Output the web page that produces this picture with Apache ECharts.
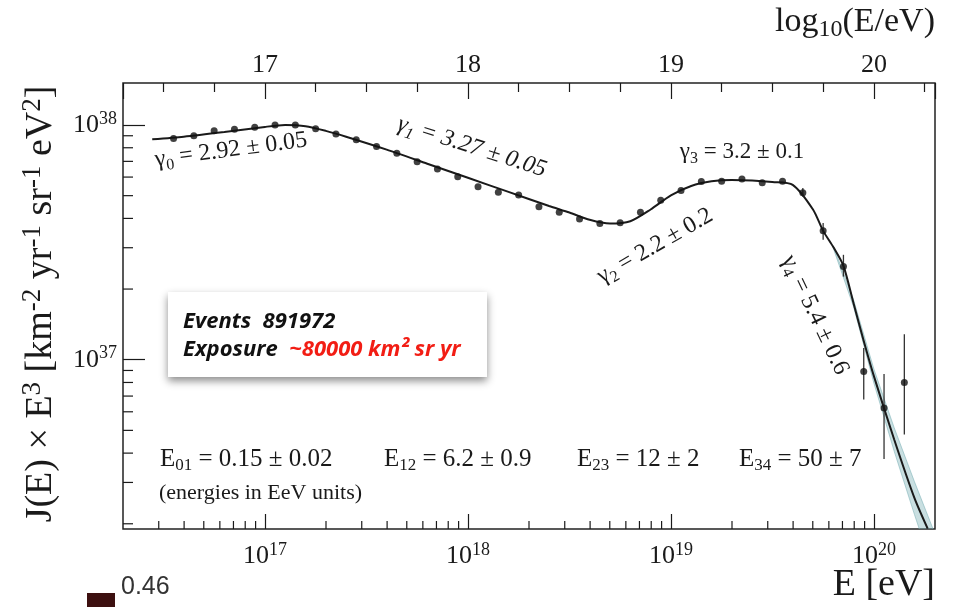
<!DOCTYPE html>
<html>
<head>
<meta charset="utf-8">
<script src="https://cdn.jsdelivr.net/npm/echarts@6/dist/echarts.min.js"></script>
<style>
  html, body { margin: 0; padding: 0; background: #fff; }
  #chart { width: 954px; height: 607px; }
</style>
</head>
<body>
<div id="chart"></div>
<script>
const pointLogE = [16.55, 16.65, 16.75, 16.85, 16.95, 17.05, 17.15, 17.25, 17.35, 17.45,
  17.55, 17.65, 17.75, 17.85, 17.95, 18.05, 18.15, 18.25, 18.35, 18.45,
  18.55, 18.65, 18.75, 18.85, 18.95, 19.05, 19.15, 19.25, 19.35, 19.45,
  19.55, 19.65, 19.75, 19.85, 19.95, 20.05, 20.15];
const pointLogJ = [37.942, 37.954, 37.976, 37.982, 37.990, 38.000, 38.000, 37.984, 37.962, 37.937,
  37.908, 37.880, 37.843, 37.813, 37.780, 37.737, 37.714, 37.702, 37.652, 37.628,
  37.600, 37.580, 37.584, 37.628, 37.679, 37.721, 37.759, 37.760, 37.770, 37.754,
  37.760, 37.711, 37.549, 37.397, 36.950, 36.794, 36.903];

// error bars on the last bins
const errLogE = [19.65, 19.75, 19.85, 19.95, 20.05, 20.15];
const errLow = [37.694, 37.511, 37.354, 36.830, 36.577, 36.681];
const errHigh = [37.732, 37.583, 37.447, 37.050, 36.939, 37.109];

// fitted broken power law (solid line)
const fitLogE = [16.445, 16.6, 16.8, 17.0, 17.1, 17.2, 17.3, 17.4, 17.6, 17.8,
  18.0, 18.2, 18.4, 18.5, 18.6, 18.7, 18.8, 18.9, 19.0, 19.1,
  19.2, 19.3, 19.4, 19.5, 19.6, 19.7, 19.75, 19.8, 19.85, 19.9,
  19.95, 20.0, 20.1, 20.2, 20.265];
const fitLogJ = [37.939, 37.950, 37.970, 37.992, 38.000, 37.995, 37.975, 37.950, 37.895, 37.835,
  37.775, 37.715, 37.655, 37.627, 37.596, 37.580, 37.590, 37.640, 37.700, 37.740,
  37.760, 37.766, 37.764, 37.757, 37.745, 37.640, 37.549, 37.480, 37.400, 37.240,
  37.080, 36.930, 36.660, 36.410, 36.280];

// shaded uncertainty of the fit in the suppression region
const bandLogE = [19.8, 19.9, 20.0, 20.1, 20.2, 20.3];
const bandLow = [37.475, 37.225, 36.900, 36.610, 36.340, 36.080];
const bandHigh = [37.485, 37.255, 36.960, 36.710, 36.480, 36.260];

// axis ranges
const xMin = 2e16, xMax = 2e20;
const yMin = 1.9e36, yMax = 1.51e38;
const minorMult = [2, 3, 4, 5, 6, 7, 8, 9];
const xDecades = [16, 17, 18, 19];
const yDecades = [36, 37];

const SERIF = "'Liberation Serif', 'DejaVu Serif', serif";
const INK = '#1a1a1a';
const pow = (v) => Math.pow(10, v);

const xMinor = [];
xDecades.forEach((d) => minorMult.forEach((m) => {
  const v = m * pow(d);
  if (v > xMin * 1.01 && v < xMax * 0.99) xMinor.push([v, yMin]);
}));
const yMinor = [];
yDecades.forEach((d) => minorMult.forEach((m) => {
  const v = m * pow(d);
  if (v > yMin && v < yMax) yMinor.push([xMin, v]);
}));

const supRich = {
  b: { fontFamily: SERIF, fontSize: 26, color: INK, lineHeight: 30 },
  s: { fontFamily: SERIF, fontSize: 18, color: INK, lineHeight: 18, verticalAlign: 'top' },
};
const decadeLabel = (v) => '{b|10}{s|' + Math.round(Math.log10(v)) + '}';

function tickSeries(data, dx, dy) {
  return {
    type: 'custom',
    silent: true,
    data: data,
    renderItem: (params, api) => {
      const p = api.coord([api.value(0), api.value(1)]);
      return {
        type: 'line',
        shape: { x1: p[0], y1: p[1], x2: p[0] + dx, y2: p[1] + dy },
        style: { stroke: INK, lineWidth: 1.2 },
      };
    },
  };
}

// text helper for the annotations
function label(x, y, text, size, rot, opts) {
  opts = opts || {};
  const st = opts.italic ? 'italic' : 'normal';
  const k = opts.sub || 0.68;
  return {
    type: 'text',
    x: x, y: y,
    rotation: rot || 0,
    z: 100,
    style: {
      text: text,
      align: opts.align || 'center',
      verticalAlign: 'middle',
      fontFamily: SERIF,
      fontSize: size,
      fontStyle: st,
      fill: INK,
      rich: {
        b: { fontFamily: SERIF, fontSize: size, fill: INK, lineHeight: size + 6, fontStyle: st },
        sub: { fontFamily: SERIF, fontSize: Math.round(size * k), fill: INK,
               lineHeight: Math.round(size * 0.6), verticalAlign: 'bottom', fontStyle: st },
        sup: { fontFamily: SERIF, fontSize: Math.round(size * k), fill: INK,
               lineHeight: Math.round(size * 0.6), verticalAlign: 'top' },
      },
    },
  };
}

const BOX_FONT = 'italic bold 22px "Open Sans", Lato, sans-serif';
const chart = echarts.init(document.getElementById('chart'));

chart.setOption({
  animation: false,
  backgroundColor: '#fff',
  grid: {
    left: 123, right: 19, top: 83, bottom: 78,
    show: true, borderColor: '#222', borderWidth: 1.5, backgroundColor: 'transparent',
  },
  xAxis: [
    {
      type: 'log', logBase: 10, min: xMin, max: xMax,
      axisLine: { show: false },
      splitLine: { show: false },
      axisTick: { inside: true, length: 15, lineStyle: { color: INK, width: 1.2 } },
      axisLabel: {
        margin: 12, showMinLabel: false, showMaxLabel: false,
        formatter: decadeLabel, rich: supRich,
      },
    },
    {
      type: 'value', position: 'top',
      min: Math.log10(xMin), max: Math.log10(xMax), splitNumber: 4,
      axisLine: { show: false },
      splitLine: { show: false },
      axisTick: { inside: true, length: 16, lineStyle: { color: INK, width: 1.2 } },
      minorTick: { show: true, splitNumber: 4, length: 9, lineStyle: { color: INK, width: 1.2 } },
      axisLabel: {
        margin: 5, showMinLabel: false, showMaxLabel: false,
        fontFamily: SERIF, fontSize: 26, color: INK,
        formatter: (v) => (Number.isInteger(v) ? String(v) : ''),
      },
    },
  ],
  yAxis: {
    type: 'log', logBase: 10, min: yMin, max: yMax,
    axisLine: { show: false },
    splitLine: { show: false },
    axisTick: { inside: true, length: 22, lineStyle: { color: INK, width: 1.2 } },
    axisLabel: {
      margin: 6, showMinLabel: false, showMaxLabel: false,
      formatter: decadeLabel, rich: supRich,
    },
  },
  series: [
    tickSeries(xMinor, 0, -8),
    tickSeries(yMinor, 10, 0),
    {
      type: 'custom',
      silent: true,
      clip: true,
      data: [[pow(bandLogE[0]), pow(bandLow[0])]],
      renderItem: (params, api) => {
        const pts = [];
        bandLogE.forEach((e, i) => pts.push(api.coord([pow(e), pow(bandLow[i])])));
        for (let i = bandLogE.length - 1; i >= 0; i--) {
          pts.push(api.coord([pow(bandLogE[i]), pow(bandHigh[i])]));
        }
        return {
          type: 'polygon',
          shape: { points: pts },
          style: { fill: 'rgba(120,175,180,0.4)', stroke: 'rgba(120,175,180,0.55)', lineWidth: 1 },
        };
      },
    },
    {
      type: 'line',
      data: fitLogE.map((e, i) => [pow(e), pow(fitLogJ[i])]),
      showSymbol: false,
      smooth: 0.25,
      clip: true,
      lineStyle: { color: INK, width: 2 },
      z: 3,
    },
    {
      type: 'custom',
      silent: true,
      data: errLogE.map((e, i) => [pow(e), pow(errLow[i]), pow(errHigh[i])]),
      renderItem: (params, api) => {
        const a = api.coord([api.value(0), api.value(1)]);
        const b = api.coord([api.value(0), api.value(2)]);
        return {
          type: 'line',
          shape: { x1: a[0], y1: a[1], x2: b[0], y2: b[1] },
          style: { stroke: '#333', lineWidth: 1.3 },
        };
      },
      z: 4,
    },
    {
      type: 'scatter',
      data: pointLogE.map((e, i) => [pow(e), pow(pointLogJ[i])]),
      symbolSize: 7,
      itemStyle: { color: '#111' },
      z: 5,
    },
  ],
  graphic: [
    // axis titles
    label(41, 304, '{b|J(E) × E}{sup|3}{b| [km}{sup|-2}{b| yr}{sup|-1}{b| sr}{sup|-1}{b| eV}{sup|2}{b|]}', 38, Math.PI / 2, { sub: 0.72 }),
    label(935, 22, '{b|log}{sub|10}{b|(E/eV)}', 34, 0, { align: 'right', sub: 0.72 }),
    label(935, 585, '{b|E [eV]}', 38, 0, { align: 'right' }),
    // spectral indices
    label(231, 150, '{b|γ}{sub|0}{b| = 2.92 ± 0.05}', 24, 0.13),
    label(472, 147, '{b|γ}{sub|1}{b| = 3.27 ± 0.05}', 24, -0.31, { italic: true }),
    label(655, 246, '{b|γ}{sub|2}{b| = 2.2 ± 0.2}', 24, 0.52),
    label(742, 152, '{b|γ}{sub|3}{b| = 3.2 ± 0.1}', 23, 0),
    label(815, 315, '{b|γ}{sub|4}{b| = 5.4 ± 0.6}', 24, -1.13),
    // break energies
    label(160, 459, '{b|E}{sub|01}{b| = 0.15 ± 0.02}', 25, 0, { align: 'left' }),
    label(384, 459, '{b|E}{sub|12}{b| = 6.2 ± 0.9}', 25, 0, { align: 'left' }),
    label(577, 459, '{b|E}{sub|23}{b| = 12 ± 2}', 25, 0, { align: 'left' }),
    label(739, 459, '{b|E}{sub|34}{b| = 50 ± 7}', 25, 0, { align: 'left' }),
    label(159, 493, '{b|(energies in EeV units)}', 22, 0, { align: 'left' }),
    // exposure box
    {
      type: 'rect', z: 90,
      shape: { x: 168, y: 292, width: 319, height: 85 },
      style: { fill: '#fff', shadowBlur: 8, shadowOffsetY: 4, shadowColor: 'rgba(0,0,0,0.45)' },
    },
    {
      type: 'text', z: 100, x: 183, y: 322,
      style: { text: 'Events  891972', fill: '#111', verticalAlign: 'middle', font: BOX_FONT },
    },
    {
      type: 'text', z: 100, x: 183, y: 350,
      style: {
        text: '{k|Exposure}  {r|~80000 km² sr yr}', verticalAlign: 'middle', font: BOX_FONT,
        rich: {
          k: { fill: '#111', font: BOX_FONT },
          r: { fill: '#f21d14', font: BOX_FONT },
        },
      },
    },
    // page fragment below the plot
    { type: 'rect', shape: { x: 87, y: 593, width: 28, height: 14 }, style: { fill: '#3d1010' } },
    {
      type: 'text', x: 121, y: 587,
      style: { text: '0.46', fill: '#333', verticalAlign: 'middle',
               font: '25px "Liberation Sans", Arial, sans-serif' },
    },
  ],
});
</script>
</body>
</html>
